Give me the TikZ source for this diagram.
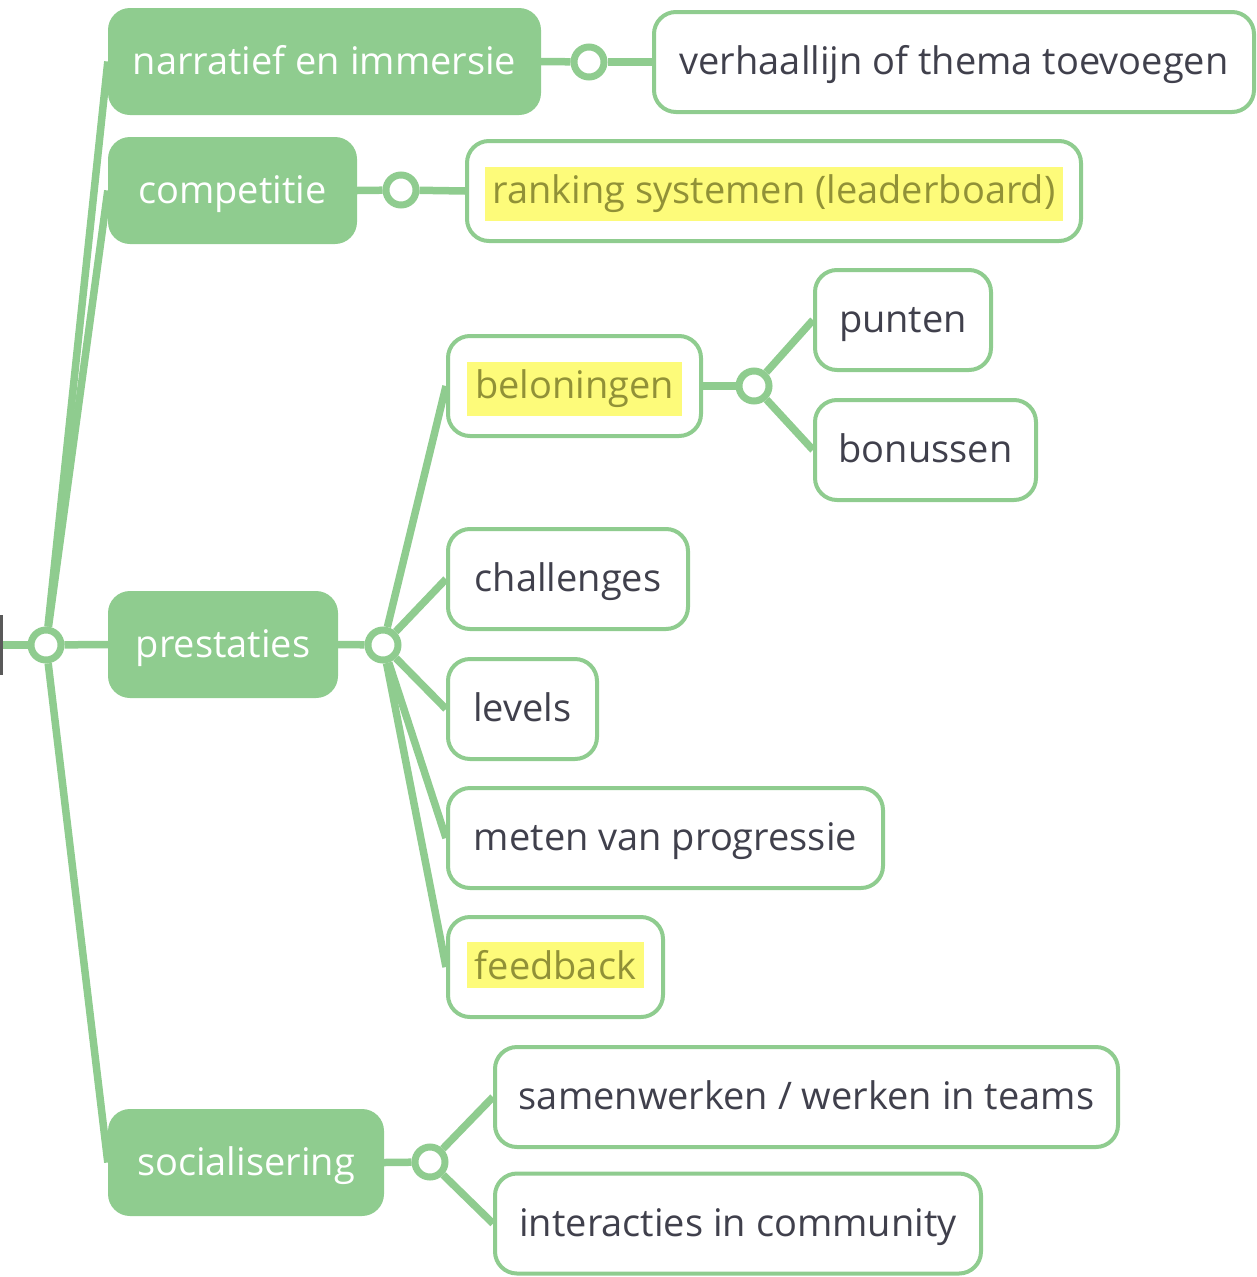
\documentclass[tikz,border=0pt]{standalone}
\usepackage{fontspec}
\setmainfont{Open Sans}
\usetikzlibrary{positioning}
\definecolor{mmgreen}{RGB}{143,204,143}
\definecolor{mmtext}{RGB}{64,64,76}
\definecolor{hlyellow}{RGB}{253,251,122}
\definecolor{hltext}{RGB}{145,145,55}
\newcommand{\hl}[1]{{\setlength{\fboxsep}{8pt}\colorbox{hlyellow}{\color{hltext}#1}}}
\begin{document}
\begin{tikzpicture}[x=1pt,y=-1pt,
  every node/.style={font=\fontsize{38}{46}\selectfont},
  mainbox/.style={draw=none, fill=mmgreen, text=white, rounded corners=22pt,
    minimum height=107pt, inner sep=0pt, text height=33pt, text depth=8pt},
  leafbox/.style={draw=mmgreen, line width=4pt, fill=white, text=mmtext,
    rounded corners=22pt, minimum height=100pt, inner sep=0pt, text height=33pt, text depth=8pt},
  hub/.style={circle, draw=mmgreen, line width=7pt, fill=white,
    minimum size=30pt, inner sep=0pt},
  link/.style={draw=mmgreen, line width=7.5pt}]
\useasboundingbox (0,0) rectangle (1257,1277);
% root sliver
\fill[black!65] (0,615) rectangle (3,675);
\coordinate (rootedge) at (3,645);
% main nodes
\node[mainbox, minimum width=433pt] (nar) at (324.5,61.5) {narratief en immersie};
\node[mainbox, minimum width=249pt] (com) at (232.5,190.5) {competitie};
\node[mainbox, minimum width=230pt] (pre) at (223,644.5) {prestaties};
\node[mainbox, minimum width=276pt] (soc) at (246,1162.5) {socialisering};
% leaf nodes
\node[leafbox, minimum width=600pt] (ver) at (954,62) {verhaallijn of thema toevoegen};
\node[leafbox, minimum width=614pt] (ran) at (774,191) {\hl{ranking systemen (leaderboard)}};
\node[leafbox, minimum width=253pt] (bel) at (574.5,386) {\hl{beloningen}};
\node[leafbox, minimum width=176pt] (pun) at (903,320) {punten};
\node[leafbox, minimum width=221pt] (bon) at (925.5,450) {bonussen};
\node[leafbox, minimum width=240pt] (cha) at (568,579) {challenges};
\node[leafbox, minimum width=149pt] (lev) at (522.5,709) {levels};
\node[leafbox, minimum width=435pt] (met) at (665.5,838) {meten van progressie};
\node[leafbox, minimum width=215pt] (fee) at (555.5,967) {\hl{feedback}};
\node[leafbox, minimum width=623pt] (sam) at (806.5,1097) {samenwerken / werken in teams};
\node[leafbox, minimum width=486pt] (int) at (738,1223.5) {interacties in community};
% hubs
\node[hub] (h0) at (46,645) {};
\node[hub] (h1) at (589,62) {};
\node[hub] (h2) at (401,190) {};
\node[hub] (h3) at (383,645) {};
\node[hub] (h4) at (754,386) {};
\node[hub] (h5) at (430,1162) {};
% connectors
\path[link] (rootedge) -- (h0);
\path[link] (h0) -- (nar.west);
\path[link] (h0) -- (com.west);
\path[link] (h0) -- (pre.west);
\path[link] (h0) -- (soc.west);
\path[link] (nar.east) -- (h1);
\path[link] (h1) -- (ver.west);
\path[link] (com.east) -- (h2);
\path[link] (h2) -- (ran.west);
\path[link] (pre.east) -- (h3);
\path[link] (h3) -- (bel.west);
\path[link] (h3) -- (cha.west);
\path[link] (h3) -- (lev.west);
\path[link] (h3) -- (met.west);
\path[link] (h3) -- (fee.west);
\path[link] (bel.east) -- (h4);
\path[link] (h4) -- (pun.west);
\path[link] (h4) -- (bon.west);
\path[link] (soc.east) -- (h5);
\path[link] (h5) -- (sam.west);
\path[link] (h5) -- (int.west);
\end{tikzpicture}
\end{document}
